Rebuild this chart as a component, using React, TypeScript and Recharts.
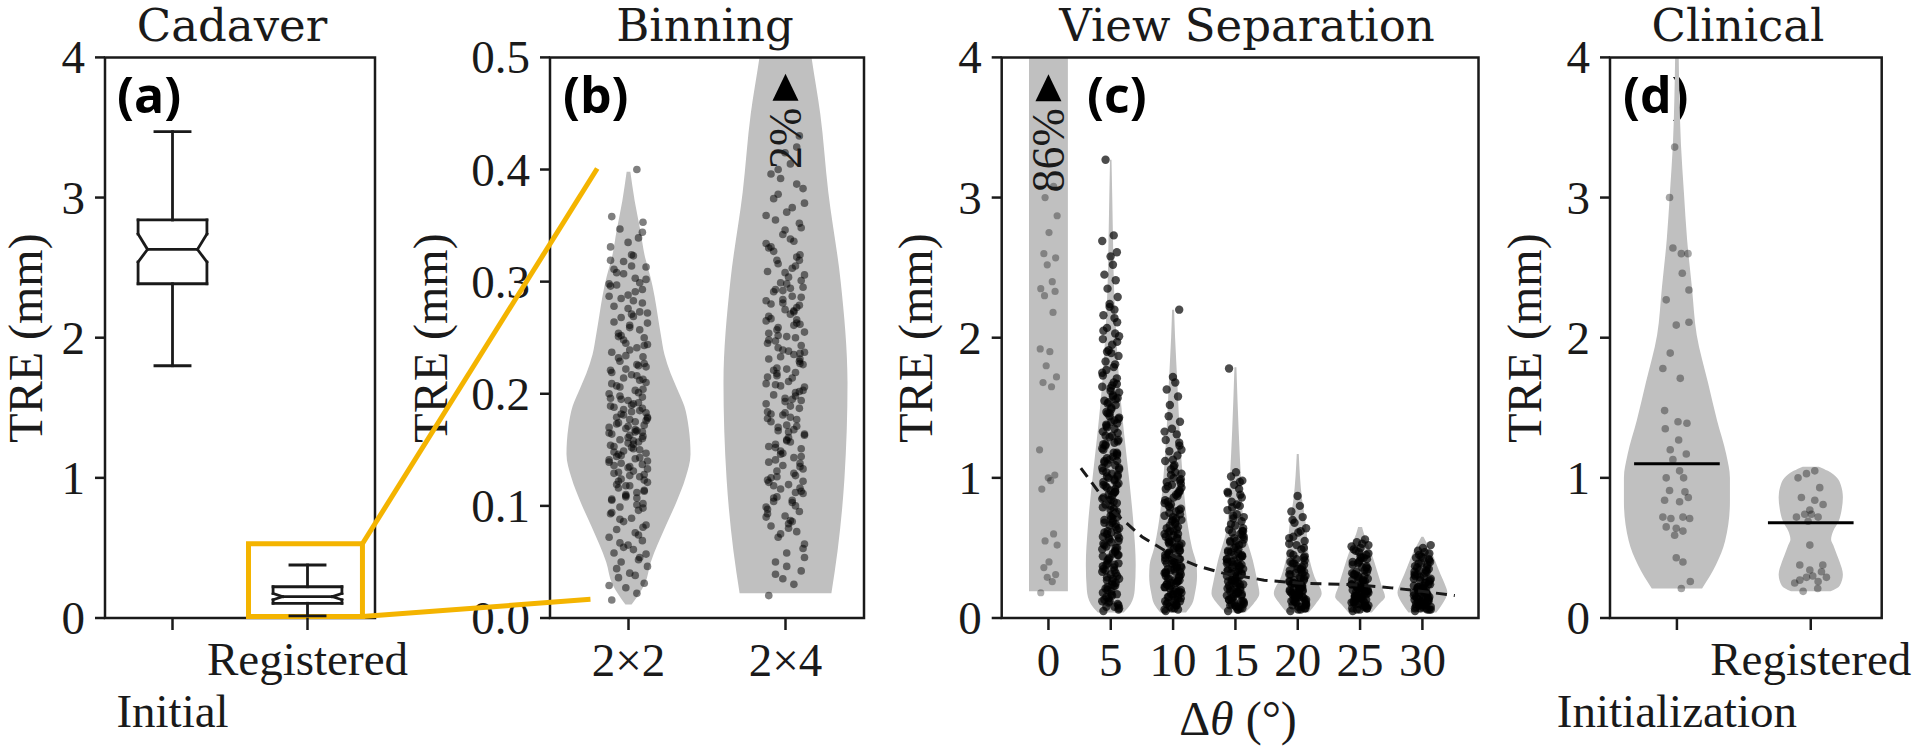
import React from "react";
import { ComposedChart, XAxis, YAxis, Area, Scatter, ReferenceLine, ReferenceArea, Customized } from "recharts";

// fixed jitter offsets, fraction of a strip's half width
const jitterPattern = [-0.82, 0.41, -0.13, 0.77, -0.49, 0.06, 0.93, -0.36, 0.55, -0.71, 0.24, -0.02, 0.68, -0.95, 0.33, -0.58, 0.86, -0.24, 0.15, -0.88, 0.49, -0.42, 0.71];

// (a) Cadaver – notched box plots
const cadaverGroups = ["Initial", "Registered"];
const cadaverWhiskerLow = [1.8, 0.015];
const cadaverQ1 = [2.385, 0.105];
const cadaverNotchLow = [2.54, 0.13];
const cadaverMedian = [2.63, 0.152];
const cadaverNotchHigh = [2.74, 0.175];
const cadaverQ3 = [2.84, 0.223];
const cadaverWhiskerHigh = [3.47, 0.378];
const zoomBox = { x1: 0.563, x2: 1.407, y1: 0.01, y2: 0.53 };
const zoomLinkEnds = [{ x: 3.146, y: 3.207 }, { x: 3.096, y: 0.133 }];
const treTicks = [0, 1, 2, 3, 4];

// (b) Binning – violins + strips
const binningGroups = ["2×2", "2×4"];
const binningTicks = [0, 0.1, 0.2, 0.3, 0.4, 0.5];
const bin22Levels = [0.012, 0.03, 0.05, 0.082, 0.103, 0.125, 0.146, 0.17, 0.189, 0.205, 0.218, 0.235, 0.253, 0.27, 0.287, 0.305, 0.321, 0.346, 0.372, 0.398];
const bin22Width = [0.05, 0.26, 0.36, 0.6, 0.77, 0.92, 1.0, 0.97, 0.9, 0.78, 0.68, 0.58, 0.52, 0.47, 0.42, 0.35, 0.27, 0.19, 0.1, 0.03];
const bin24Levels = [0.022, 0.06, 0.124, 0.21, 0.3, 0.38, 0.45, 0.5, 0.55];
const bin24Width = [0.74, 0.84, 0.95, 1.0, 0.89, 0.69, 0.56, 0.42, 0.3];
const bin22Tre = [0.016, 0.022, 0.027, 0.031, 0.036, 0.04, 0.046, 0.05, 0.054, 0.058, 0.061, 0.065, 0.069, 0.072, 0.076, 0.079, 0.083, 0.086, 0.089, 0.093, 0.096, 0.099, 0.102, 0.105, 0.107, 0.11, 0.113, 0.116, 0.118, 0.121, 0.124, 0.126, 0.129, 0.131, 0.134, 0.137, 0.139, 0.142, 0.144, 0.147, 0.149, 0.152, 0.154, 0.157, 0.159, 0.162, 0.164, 0.167, 0.169, 0.172, 0.174, 0.177, 0.179, 0.182, 0.185, 0.188, 0.191, 0.194, 0.197, 0.2, 0.203, 0.207, 0.21, 0.214, 0.217, 0.221, 0.225, 0.229, 0.233, 0.237, 0.241, 0.245, 0.25, 0.254, 0.259, 0.263, 0.268, 0.273, 0.278, 0.283, 0.288, 0.293, 0.298, 0.303, 0.308, 0.313, 0.318, 0.324, 0.331, 0.339, 0.347, 0.353, 0.358, 0.4, 0.108, 0.128, 0.146, 0.163, 0.178, 0.195, 0.212, 0.136, 0.155, 0.171, 0.187, 0.141, 0.166, 0.119, 0.224, 0.248, 0.271, 0.296,
  0.052, 0.067, 0.081, 0.094, 0.101, 0.109, 0.114, 0.122, 0.127, 0.133, 0.138, 0.143, 0.148, 0.151, 0.156, 0.16, 0.165, 0.168, 0.173, 0.176, 0.181, 0.184, 0.189, 0.192, 0.198, 0.204, 0.209, 0.216, 0.222, 0.227, 0.232, 0.239, 0.244, 0.252, 0.257, 0.264, 0.269, 0.276, 0.281, 0.287, 0.291, 0.297, 0.302, 0.307, 0.314, 0.319, 0.074, 0.088, 0.098, 0.106, 0.112, 0.118, 0.123, 0.13, 0.135, 0.14, 0.145, 0.15, 0.153, 0.158, 0.161, 0.166, 0.17, 0.175, 0.179, 0.183, 0.186, 0.19, 0.196, 0.201, 0.206, 0.213, 0.219, 0.226, 0.234, 0.243, 0.251, 0.261, 0.272, 0.285, 0.299, 0.311, 0.323, 0.335, 0.344, 0.029, 0.038, 0.044, 0.057, 0.063];
const bin24Tre = [0.02, 0.03, 0.035, 0.042, 0.05, 0.058, 0.066, 0.072, 0.077, 0.082, 0.087, 0.091, 0.095, 0.099, 0.103, 0.107, 0.111, 0.115, 0.119, 0.123, 0.127, 0.131, 0.135, 0.139, 0.143, 0.147, 0.151, 0.155, 0.159, 0.163, 0.167, 0.171, 0.175, 0.179, 0.183, 0.187, 0.191, 0.195, 0.199, 0.203, 0.207, 0.211, 0.215, 0.219, 0.223, 0.227, 0.231, 0.235, 0.239, 0.243, 0.247, 0.251, 0.255, 0.259, 0.263, 0.267, 0.271, 0.275, 0.279, 0.283, 0.287, 0.291, 0.295, 0.299, 0.304, 0.309, 0.314, 0.319, 0.324, 0.33, 0.336, 0.342, 0.348, 0.355, 0.362, 0.37, 0.378, 0.387, 0.396, 0.405, 0.415, 0.43, 0.09, 0.105, 0.118, 0.133, 0.149, 0.166, 0.184, 0.201, 0.218, 0.236, 0.254, 0.273, 0.292, 0.113, 0.141, 0.172, 0.206, 0.241, 0.277, 0.125, 0.157, 0.193, 0.229, 0.265, 0.312, 0.327,
  0.062, 0.075, 0.084, 0.093, 0.1, 0.108, 0.116, 0.121, 0.129, 0.136, 0.144, 0.152, 0.158, 0.164, 0.17, 0.177, 0.182, 0.189, 0.196, 0.202, 0.209, 0.214, 0.221, 0.226, 0.233, 0.238, 0.245, 0.25, 0.257, 0.262, 0.269, 0.274, 0.281, 0.286, 0.293, 0.298, 0.306, 0.316, 0.322, 0.331, 0.338, 0.346, 0.352, 0.359, 0.366, 0.374, 0.383, 0.392, 0.08, 0.097, 0.112, 0.126, 0.138, 0.153, 0.168, 0.181, 0.194, 0.208, 0.222, 0.237, 0.252, 0.266, 0.28, 0.294, 0.308, 0.319, 0.334, 0.086, 0.104, 0.122, 0.146, 0.161, 0.178, 0.198, 0.216, 0.231, 0.248, 0.261, 0.284, 0.301, 0.039, 0.046, 0.054, 0.4, 0.42];
const binningOverflow = { label: "2%", at: 0.473 };

// (c) View separation
const sepAngles = [0, 5, 10, 15, 20, 25, 30];
const sep0Levels = [0.19, 4.3];
const sep0Width = [0.78, 0.78];
const sep5Levels = [0.04, 0.1, 0.2, 0.38, 0.65, 1.0, 1.34, 1.68, 2.02, 2.36, 2.7, 3.0, 3.27];
const sep5Width = [0.52, 0.8, 0.96, 1.0, 0.92, 0.73, 0.52, 0.34, 0.22, 0.13, 0.09, 0.06, 0.03];
const sep10Levels = [0.04, 0.1, 0.18, 0.3, 0.38, 0.5, 0.65, 1.0, 1.34, 1.68, 2.0, 2.2];
const sep10Width = [0.52, 0.76, 0.88, 0.96, 0.94, 0.76, 0.6, 0.39, 0.26, 0.17, 0.08, 0.04];
const sep15Levels = [0.04, 0.1, 0.176, 0.26, 0.41, 0.65, 1.0, 1.34, 1.79];
const sep15Width = [0.4, 0.72, 0.96, 0.88, 0.7, 0.34, 0.22, 0.13, 0.04];
const sep20Levels = [0.04, 0.1, 0.176, 0.295, 0.45, 0.65, 0.85, 1.17];
const sep20Width = [0.44, 0.72, 0.96, 0.67, 0.44, 0.34, 0.17, 0.04];
const sep25Levels = [0.04, 0.1, 0.152, 0.22, 0.343, 0.52, 0.6, 0.65];
const sep25Width = [0.47, 0.76, 1.0, 0.88, 0.67, 0.34, 0.16, 0.08];
const sep30Levels = [0.04, 0.1, 0.18, 0.25, 0.31, 0.48, 0.55, 0.58];
const sep30Width = [0.56, 0.8, 1.0, 0.88, 0.73, 0.34, 0.13, 0.04];
const sep0Tre = [0.18, 0.26, 0.29, 0.31, 0.36, 0.4, 0.52, 0.55, 0.6, 0.92, 0.98, 1.0, 1.02, 1.2, 1.65, 1.68, 1.72, 1.8, 1.9, 1.92, 2.18, 2.3, 2.33, 2.35, 2.4, 2.52, 2.57, 2.6, 2.75, 2.87, 3.0, 3.08];
const sep5Tre = [0.05, 0.08, 0.12, 0.1, 0.15, 0.19, 0.07, 0.22, 0.25, 0.13, 0.28, 0.31, 0.17, 0.33, 0.36, 0.21, 0.39, 0.42, 0.24, 0.44, 0.47, 0.29, 0.5, 0.53, 0.34, 0.56, 0.59, 0.38, 0.61, 0.64, 0.41, 0.67, 0.7, 0.46, 0.73, 0.76, 0.49, 0.78, 0.81, 0.55, 0.84, 0.87, 0.58, 0.9, 0.93, 0.63, 0.95, 0.98, 0.66, 1.01, 1.04, 0.71, 1.07, 1.1, 0.75, 1.12, 1.15, 0.8, 1.18, 1.21, 0.83, 1.24, 1.27, 0.88, 1.3, 1.33, 0.92, 1.36, 1.39, 0.97, 1.41, 1.44, 1.02, 1.47, 1.5, 1.06, 1.53, 1.56, 1.11, 1.59, 1.62, 1.16, 1.65, 1.68, 1.23, 0.06, 0.14, 0.26, 0.37, 0.48, 0.6, 0.72, 0.86, 0.99, 1.13, 1.26, 1.38, 1.49, 1.61, 0.2, 0.32, 0.52, 0.69, 0.91, 1.71, 1.75, 1.79, 1.83, 1.87, 1.91, 1.95, 1.99, 2.03, 2.07, 2.11, 2.16, 2.2, 2.24, 2.29, 1.77, 1.89, 2.01, 2.35, 2.41, 2.45, 2.52, 2.58, 2.61, 2.69, 2.73, 3.27,
  0.09, 0.11, 0.16, 0.18, 0.23, 0.27, 0.3, 0.35, 0.38, 0.43, 0.45, 0.51, 0.54, 0.57, 0.62, 0.65, 0.68, 0.74, 0.77, 0.82, 0.85, 0.89, 0.94, 0.96, 1.0, 1.03, 1.05, 1.09, 1.14, 1.17, 1.2, 1.25, 1.29, 1.32, 1.37, 1.4, 1.43, 1.46, 1.52, 1.55, 1.58, 1.64, 1.67, 0.12, 0.23, 0.34, 0.45, 0.57, 0.68, 0.79, 0.9, 1.01, 1.12, 1.24, 1.35, 1.46, 1.57, 0.08, 0.17, 0.28, 0.39, 0.5, 0.61, 0.73, 0.84, 0.95, 1.07, 1.18, 1.3, 1.42, 1.54, 1.66, 1.73, 1.81, 1.9, 1.97, 2.05, 2.14, 2.22];
const sep10Tre = [0.05, 0.09, 0.07, 0.12, 0.15, 0.11, 0.18, 0.21, 0.14, 0.24, 0.27, 0.17, 0.29, 0.32, 0.2, 0.35, 0.37, 0.23, 0.4, 0.43, 0.26, 0.45, 0.48, 0.3, 0.51, 0.54, 0.33, 0.56, 0.59, 0.36, 0.62, 0.65, 0.39, 0.67, 0.7, 0.42, 0.73, 0.76, 0.46, 0.78, 0.81, 0.5, 0.84, 0.87, 0.53, 0.9, 0.92, 0.57, 0.95, 0.98, 0.61, 1.0, 1.03, 0.66, 0.06, 0.1, 0.13, 0.16, 0.19, 0.22, 0.25, 0.28, 0.31, 0.34, 0.38, 0.41, 0.44, 0.47, 0.52, 0.58, 0.63, 0.69, 0.74, 0.8, 0.86, 0.93, 0.08, 0.16, 0.24, 0.33, 0.41, 0.5, 0.6, 0.71, 0.83, 0.96, 1.06, 1.09, 1.12, 1.16, 1.19, 1.23, 1.27, 1.31, 1.35, 1.4, 1.44, 1.08, 1.2, 1.52, 1.58, 1.63, 1.68, 1.72, 2.2,
  0.06, 0.09, 0.11, 0.14, 0.17, 0.19, 0.22, 0.26, 0.28, 0.3, 0.33, 0.36, 0.39, 0.42, 0.46, 0.49, 0.53, 0.55, 0.6, 0.64, 0.68, 0.72, 0.77, 0.82, 0.88, 0.94, 0.99, 1.02, 0.07, 0.12, 0.18, 0.23, 0.27, 0.32, 0.37, 0.43, 0.48, 0.54, 0.62, 0.7, 0.79, 0.89, 0.97, 1.04, 1.13, 1.25, 1.33, 0.1, 0.15, 0.2, 0.25, 0.35, 0.45, 0.57, 0.75, 0.91];
const sep15Tre = [0.05, 0.08, 0.11, 0.07, 0.14, 0.17, 0.1, 0.2, 0.22, 0.13, 0.25, 0.28, 0.16, 0.3, 0.33, 0.19, 0.35, 0.38, 0.23, 0.4, 0.43, 0.26, 0.45, 0.48, 0.29, 0.5, 0.53, 0.32, 0.55, 0.58, 0.36, 0.6, 0.63, 0.39, 0.66, 0.69, 0.42, 0.06, 0.09, 0.12, 0.15, 0.18, 0.21, 0.24, 0.27, 0.31, 0.34, 0.37, 0.41, 0.44, 0.47, 0.51, 0.56, 0.61, 0.07, 0.13, 0.19, 0.25, 0.32, 0.39, 0.46, 0.54, 0.62, 0.71, 0.74, 0.77, 0.8, 0.83, 0.86, 0.89, 0.92, 0.95, 0.98, 1.01, 1.04, 0.72, 0.79, 0.88, 1.78,
  0.06, 0.09, 0.12, 0.16, 0.18, 0.21, 0.24, 0.27, 0.3, 0.34, 0.37, 0.4, 0.44, 0.47, 0.52, 0.57, 0.62, 0.67, 0.08, 0.11, 0.14, 0.2, 0.23, 0.29, 0.33, 0.38, 0.42, 0.49, 0.55, 0.64, 0.73, 0.81, 0.9, 0.97, 0.1, 0.17, 0.26, 0.35, 0.45, 0.59];
const sep20Tre = [0.05, 0.08, 0.11, 0.07, 0.13, 0.16, 0.1, 0.18, 0.2, 0.12, 0.22, 0.24, 0.14, 0.26, 0.28, 0.17, 0.3, 0.32, 0.19, 0.34, 0.36, 0.21, 0.38, 0.4, 0.23, 0.42, 0.44, 0.25, 0.06, 0.09, 0.12, 0.15, 0.18, 0.21, 0.24, 0.27, 0.31, 0.35, 0.39, 0.07, 0.11, 0.15, 0.19, 0.23, 0.27, 0.33, 0.46, 0.49, 0.52, 0.55, 0.58, 0.61, 0.64, 0.68, 0.72, 0.76, 0.8, 0.87, 0.5, 0.57,
  0.06, 0.09, 0.12, 0.14, 0.17, 0.2, 0.22, 0.25, 0.28, 0.31, 0.34, 0.37, 0.41, 0.45, 0.08, 0.13, 0.16, 0.19, 0.24, 0.29, 0.35, 0.43, 0.53, 0.62, 0.7, 0.1, 0.15, 0.21, 0.26, 0.32, 0.39];
const sep25Tre = [0.05, 0.08, 0.1, 0.07, 0.12, 0.14, 0.09, 0.16, 0.18, 0.11, 0.2, 0.22, 0.13, 0.24, 0.26, 0.15, 0.28, 0.3, 0.17, 0.32, 0.34, 0.19, 0.36, 0.38, 0.21, 0.4, 0.42, 0.23, 0.44, 0.46, 0.06, 0.09, 0.12, 0.15, 0.18, 0.21, 0.24, 0.27, 0.31, 0.35, 0.39, 0.43, 0.07, 0.11, 0.14, 0.17, 0.2, 0.25, 0.29, 0.33, 0.48, 0.5, 0.52, 0.54, 0.56, 0.49, 0.53,
  0.06, 0.08, 0.11, 0.13, 0.16, 0.19, 0.21, 0.24, 0.27, 0.3, 0.33, 0.37, 0.4, 0.43, 0.47, 0.07, 0.1, 0.14, 0.18, 0.22, 0.26, 0.31, 0.36, 0.41, 0.45, 0.51, 0.09, 0.15, 0.2, 0.28];
const sep30Tre = [0.05, 0.07, 0.09, 0.06, 0.11, 0.13, 0.08, 0.15, 0.17, 0.1, 0.19, 0.21, 0.12, 0.23, 0.25, 0.14, 0.27, 0.29, 0.16, 0.31, 0.33, 0.18, 0.35, 0.37, 0.2, 0.39, 0.41, 0.22, 0.43, 0.06, 0.09, 0.12, 0.15, 0.18, 0.21, 0.24, 0.28, 0.32, 0.36, 0.4, 0.07, 0.1, 0.13, 0.17, 0.22, 0.26, 0.3, 0.34, 0.44, 0.46, 0.48, 0.5, 0.52, 0.45,
  0.06, 0.08, 0.1, 0.12, 0.14, 0.16, 0.19, 0.21, 0.24, 0.27, 0.3, 0.33, 0.36, 0.39, 0.42, 0.07, 0.09, 0.11, 0.15, 0.2, 0.23, 0.28, 0.34, 0.38, 0.43, 0.47, 0.08, 0.13, 0.18, 0.25, 0.31];
const fitAngle = [2.6, 5.2, 7.5, 10.1, 12, 14, 17.3, 20, 25, 27.5, 30, 32.6];
const fitTre = [1.07, 0.76, 0.58, 0.44, 0.37, 0.32, 0.27, 0.25, 0.235, 0.215, 0.19, 0.16];
const sepOverflow = { label: "86%", at: 3.78 };

// (d) Clinical
const clinicalGroups = ["Initialization", "Registered"];
const initLevels = [0.21, 0.38, 0.55, 0.83, 1.0, 1.17, 1.41, 1.68, 2.02, 2.36, 2.7, 3.04, 3.38, 3.72, 4.2];
const initWidth = [0.47, 0.73, 0.9, 0.99, 0.99, 0.92, 0.75, 0.58, 0.37, 0.28, 0.19, 0.13, 0.075, 0.047, 0.028];
const regLevels = [0.19, 0.23, 0.31, 0.4, 0.45, 0.52, 0.56, 0.62, 0.69, 0.78, 0.86, 0.95, 1.0, 1.05, 1.08];
const regWidth = [0.37, 0.54, 0.6, 0.54, 0.49, 0.42, 0.38, 0.42, 0.52, 0.58, 0.6, 0.56, 0.49, 0.32, 0.15];
const initTre = [3.36, 3.0, 2.64, 2.6, 2.6, 2.46, 2.34, 2.27, 2.11, 2.09, 1.89, 1.78, 1.71, 1.48, 1.4, 1.39, 1.35, 1.27, 1.2, 1.17, 1.13, 1.05, 1.0, 1.0, 0.91, 0.9, 0.86, 0.84, 0.83, 0.72, 0.71, 0.72, 0.71, 0.65, 0.64, 0.62, 0.59, 0.43, 0.4, 0.26, 0.21];
const initOffset = [-0.017, -0.055, -0.03, 0.033, 0.083, 0.04, 0.09, -0.08, 0.09, -0.005, -0.05, -0.105, 0.025, -0.092, 0.008, 0.075, -0.087, 0.013, -0.05, 0.07, -0.03, 0.02, -0.08, 0.05, -0.055, 0.06, 0.085, -0.092, 0.02, -0.105, -0.045, 0.045, 0.095, -0.08, -0.005, 0.045, -0.017, -0.005, 0.045, 0.1, 0.033];
const regTre = [1.05, 1.03, 1.0, 0.93, 0.86, 0.84, 0.81, 0.77, 0.74, 0.74, 0.72, 0.72, 0.69, 0.52, 0.378, 0.342, 0.378, 0.27, 0.29, 0.26, 0.29, 0.19, 0.21, 0.3, 0.33, 0.25];
const regOffset = [0.03, -0.032, -0.095, 0.067, -0.07, 0.03, 0.092, -0.007, -0.045, 0.005, 0.055, -0.107, -0.02, -0.007, -0.082, -0.007, 0.09, -0.082, -0.032, 0.055, 0.117, -0.057, 0.052, 0.015, 0.08, -0.12];
const clinicalMedian = [1.1, 0.68];

const INK = "#1a1a1a";
const VIOLIN = "#c0c0c0";
const GOLD = "#f4b400";
const SERIF = "Liberation Serif";

const violin = (center: number, levels: number[], widths: number[], half: number) =>
  levels.map((y, i) => ({ y, w: [center - widths[i] * half, center + widths[i] * half] }));
const strip = (center: number, values: number[], spread: number) =>
  values.map((y, i) => ({ x: center + jitterPattern[i % jitterPattern.length] * spread, y }));
const placed = (center: number, values: number[], offsets: number[]) =>
  values.map((y, i) => ({ x: center + offsets[i], y }));

const dot = (opacity: number, r = 3.6) => (p: any) => <circle cx={p.cx} cy={p.cy} r={r} fill="#000" fillOpacity={opacity} />;
const none = () => <g />;

const overflowMark = (label: string) => (p: any) => (
  <g>
    <polygon points={`${p.cx},${p.cy - 14} ${p.cx + 13},${p.cy + 13} ${p.cx - 13},${p.cy + 13}`} fill="#000" />
    <text transform={`translate(${p.cx},${p.cy + 20}) rotate(-90)`} textAnchor="end" dominantBaseline="central" fontFamily={SERIF} fontSize={46} fill={INK}>
      {label}
    </text>
  </g>
);

const yTick = (digits: number) => (p: any) => (
  <text x={p.x} y={p.y} textAnchor="end" dominantBaseline="central" fontFamily={SERIF} fontSize={47} fill={INK}>
    {Number(p.payload.value).toFixed(digits)}
  </text>
);
const xTick = (label: (v: number) => string, drop: (v: number) => number) => (p: any) => (
  <text x={p.x} y={p.y + drop(p.payload.value)} textAnchor="middle" fontFamily={SERIF} fontSize={47} fill={INK}>
    {label(p.payload.value)}
  </text>
);

const PanelText = ({ title, titleX, letter, letterX, yLabelX, children }: any) => (
  <g>
    <text x={titleX} y={41} textAnchor="middle" fontFamily="DejaVu Serif" fontSize={45} fill={INK}>{title}</text>
    <text x={letterX} y={113} fontFamily="Open Sans" fontWeight={700} fontSize={50} fill="#000">{letter}</text>
    <text transform={`translate(${yLabelX},338) rotate(-90)`} textAnchor="middle" dominantBaseline="central" fontFamily={SERIF} fontSize={48} fill={INK}>
      TRE (mm)
    </text>
    {children}
  </g>
);

const frame = (x1: number, x2: number, y2: number) => (
  <ReferenceArea x1={x1} x2={x2} y1={0} y2={y2} fill="none" stroke={INK} strokeWidth={2.5} ifOverflow="visible" />
);

function CadaverPanel() {
  const W = 0.255, N = 0.185, C = 0.13;
  const seg = (x1: number, y1: number, x2: number, y2: number) => [{ x: x1, y: y1 }, { x: x2, y: y2 }];
  const segments = cadaverGroups.flatMap((_, c) => [
    seg(c, cadaverWhiskerLow[c], c, cadaverQ1[c]),
    seg(c - C, cadaverWhiskerLow[c], c + C, cadaverWhiskerLow[c]),
    seg(c, cadaverQ3[c], c, cadaverWhiskerHigh[c]),
    seg(c - C, cadaverWhiskerHigh[c], c + C, cadaverWhiskerHigh[c]),
    seg(c - W, cadaverQ1[c], c + W, cadaverQ1[c]),
    seg(c - W, cadaverQ3[c], c + W, cadaverQ3[c]),
    ...[-1, 1].flatMap((s) => [
      seg(c + s * W, cadaverQ1[c], c + s * W, cadaverNotchLow[c]),
      seg(c + s * W, cadaverNotchLow[c], c + s * N, cadaverMedian[c]),
      seg(c + s * N, cadaverMedian[c], c + s * W, cadaverNotchHigh[c]),
      seg(c + s * W, cadaverNotchHigh[c], c + s * W, cadaverQ3[c]),
    ]),
    seg(c - N, cadaverMedian[c], c + N, cadaverMedian[c]),
  ]);
  return (
    <ComposedChart width={620} height={750} margin={{ top: 57.4, right: 245, bottom: 0, left: 0 }}>
      <XAxis type="number" dataKey="x" domain={[-0.5, 1.5]} ticks={[0, 1]} interval={0} allowDataOverflow height={132}
        axisLine={false} tickLine={{ stroke: INK, strokeWidth: 2.5 }} tickSize={12} tickMargin={0}
        tick={xTick((v) => cadaverGroups[v], (v) => (v === 0 ? 97 : 45))} />
      <YAxis type="number" dataKey="y" domain={[0, 4]} ticks={treTicks} interval={0} allowDataOverflow width={105}
        axisLine={false} tickLine={{ stroke: INK, strokeWidth: 2.5 }} tickSize={10} tickMargin={10} tick={yTick(0)} />
      {segments.map((s, k) => (
        <ReferenceLine key={k} segment={s} stroke={INK} strokeWidth={2.8} strokeLinecap="square" ifOverflow="visible" />
      ))}
      {frame(-0.5, 1.5, 4)}
      <ReferenceArea {...zoomBox} fill="none" stroke={GOLD} strokeWidth={5} ifOverflow="visible" />
      <ReferenceLine segment={[{ x: zoomBox.x2, y: zoomBox.y2 }, zoomLinkEnds[0]]} stroke={GOLD} strokeWidth={5} ifOverflow="visible" />
      <ReferenceLine segment={[{ x: zoomBox.x2, y: zoomBox.y1 }, zoomLinkEnds[1]]} stroke={GOLD} strokeWidth={5} ifOverflow="visible" />
      <Customized component={<PanelText title="Cadaver" titleX={232} letter="(a)" letterX={117} yLabelX={25} />} />
    </ComposedChart>
  );
}

function BinningPanel() {
  const half = 0.395;
  return (
    <ComposedChart layout="vertical" width={520} height={750} margin={{ top: 57.4, right: 46, bottom: 0, left: 0 }}>
      <XAxis type="number" dataKey="x" domain={[-0.5, 1.5]} ticks={[0, 1]} interval={0} allowDataOverflow height={132}
        axisLine={false} tickLine={{ stroke: INK, strokeWidth: 2.5 }} tickSize={12} tickMargin={0}
        tick={xTick((v) => binningGroups[v], () => 46)} />
      <YAxis type="number" dataKey="y" domain={[0, 0.5]} ticks={binningTicks} interval={0} allowDataOverflow reversed width={160}
        axisLine={false} tickLine={{ stroke: INK, strokeWidth: 2.5 }} tickSize={10} tickMargin={10} tick={yTick(1)} />
      <Area data={violin(0, bin22Levels, bin22Width, half)} dataKey="w" type="monotone" stroke="none" fill={VIOLIN} fillOpacity={1} connectNulls dot={false} activeDot={false} isAnimationActive={false} />
      <Area data={violin(1, bin24Levels, bin24Width, half)} dataKey="w" type="monotone" stroke="none" fill={VIOLIN} fillOpacity={1} connectNulls dot={false} activeDot={false} isAnimationActive={false} />
      <Scatter data={strip(0, bin22Tre, 0.13)} shape={dot(0.5, 3.8)} isAnimationActive={false} />
      <Scatter data={strip(1, bin24Tre, 0.13)} shape={dot(0.5, 3.8)} isAnimationActive={false} />
      <Scatter data={[{ x: 1, y: binningOverflow.at }]} shape={overflowMark(binningOverflow.label)} isAnimationActive={false} />
      {frame(-0.5, 1.5, 0.5)}
      <Customized component={<PanelText title="Binning" titleX={315} letter="(b)" letterX={173} yLabelX={40} />} />
    </ComposedChart>
  );
}

function ViewSeparationPanel() {
  const half = 2.0;
  const levels = [sep0Levels, sep5Levels, sep10Levels, sep15Levels, sep20Levels, sep25Levels, sep30Levels];
  const widths = [sep0Width, sep5Width, sep10Width, sep15Width, sep20Width, sep25Width, sep30Width];
  const tre = [sep0Tre, sep5Tre, sep10Tre, sep15Tre, sep20Tre, sep25Tre, sep30Tre];
  return (
    <ComposedChart layout="vertical" width={620} height={750} margin={{ top: 57.4, right: 21.5, bottom: 0, left: 0 }}>
      <XAxis type="number" dataKey="x" domain={[-3.75, 34.5]} ticks={sepAngles} interval={0} allowDataOverflow height={132}
        axisLine={false} tickLine={{ stroke: INK, strokeWidth: 2.5 }} tickSize={12} tickMargin={0}
        tick={xTick((v) => String(v), () => 46)} />
      <YAxis type="number" dataKey="y" domain={[0, 4]} ticks={treTicks} interval={0} allowDataOverflow reversed width={121.7}
        axisLine={false} tickLine={{ stroke: INK, strokeWidth: 2.5 }} tickSize={10} tickMargin={10} tick={yTick(0)} />
      {sepAngles.map((a, i) => (
        <Area key={`v${a}`} data={violin(a, levels[i], widths[i], half)} dataKey="w" type="monotone" stroke="none" fill={VIOLIN} fillOpacity={1} connectNulls dot={false} activeDot={false} isAnimationActive={false} />
      ))}
      {sepAngles.map((a, i) => (
        <Scatter key={`p${a}`} data={strip(a, tre[i], i === 0 ? 0.75 : 0.72)} shape={i === 0 ? dot(0.32) : dot(0.7, 4.2)} isAnimationActive={false} />
      ))}
      <Scatter data={fitAngle.map((x, i) => ({ x, y: fitTre[i] }))} shape={none} line={{ stroke: INK, strokeWidth: 3, strokeDasharray: "11 7" }} lineType="joint" isAnimationActive={false} />
      <Scatter data={[{ x: 0, y: sepOverflow.at }]} shape={overflowMark(sepOverflow.label)} isAnimationActive={false} />
      {frame(-3.75, 34.5, 4)}
      <Customized component={
        <PanelText title="View Separation" titleX={367} letter="(c)" letterX={207} yLabelX={35}>
          <text x={358} y={735} textAnchor="middle" fontFamily={SERIF} fontSize={48} fill={INK}>
            Δ<tspan fontStyle="italic">θ</tspan> (°)
          </text>
        </PanelText>
      } />
    </ComposedChart>
  );
}

function ClinicalPanel() {
  const half = 0.4;
  return (
    <ComposedChart layout="vertical" width={430} height={750} margin={{ top: 57.4, right: 38.3, bottom: 0, left: 0 }}>
      <XAxis type="number" dataKey="x" domain={[-0.5, 1.53]} ticks={[0, 1]} interval={0} allowDataOverflow height={132}
        axisLine={false} tickLine={{ stroke: INK, strokeWidth: 2.5 }} tickSize={12} tickMargin={0}
        tick={xTick((v) => clinicalGroups[v], (v) => (v === 0 ? 97 : 45))} />
      <YAxis type="number" dataKey="y" domain={[0, 4]} ticks={treTicks} interval={0} allowDataOverflow reversed width={120}
        axisLine={false} tickLine={{ stroke: INK, strokeWidth: 2.5 }} tickSize={10} tickMargin={10} tick={yTick(0)} />
      <Area data={violin(0, initLevels, initWidth, half)} dataKey="w" type="monotone" stroke="none" fill={VIOLIN} fillOpacity={1} connectNulls dot={false} activeDot={false} isAnimationActive={false} />
      <Area data={violin(1, regLevels, regWidth, half)} dataKey="w" type="monotone" stroke="none" fill={VIOLIN} fillOpacity={1} connectNulls dot={false} activeDot={false} isAnimationActive={false} />
      <Scatter data={placed(0, initTre, initOffset)} shape={dot(0.35, 3.8)} isAnimationActive={false} />
      <Scatter data={placed(1, regTre, regOffset)} shape={dot(0.35, 3.8)} isAnimationActive={false} />
      {clinicalMedian.map((m, c) => (
        <ReferenceLine key={c} segment={[{ x: c - 0.32, y: m }, { x: c + 0.32, y: m }]} stroke="#000" strokeWidth={3} ifOverflow="visible" />
      ))}
      {frame(-0.5, 1.53, 4)}
      <Customized component={<PanelText title="Clinical" titleX={248} letter="(d)" letterX={133} yLabelX={34} />} />
    </ComposedChart>
  );
}

export default function App() {
  return (
    <div style={{ position: "absolute", left: 0, top: 0, width: 1920, height: 750, background: "#fff", overflow: "hidden" }}>
      <div style={{ position: "absolute", left: 390, top: 0 }}><BinningPanel /></div>
      <div style={{ position: "absolute", left: 880, top: 0 }}><ViewSeparationPanel /></div>
      <div style={{ position: "absolute", left: 1490, top: 0 }}><ClinicalPanel /></div>
      <div style={{ position: "absolute", left: 0, top: 0 }}><CadaverPanel /></div>
    </div>
  );
}
